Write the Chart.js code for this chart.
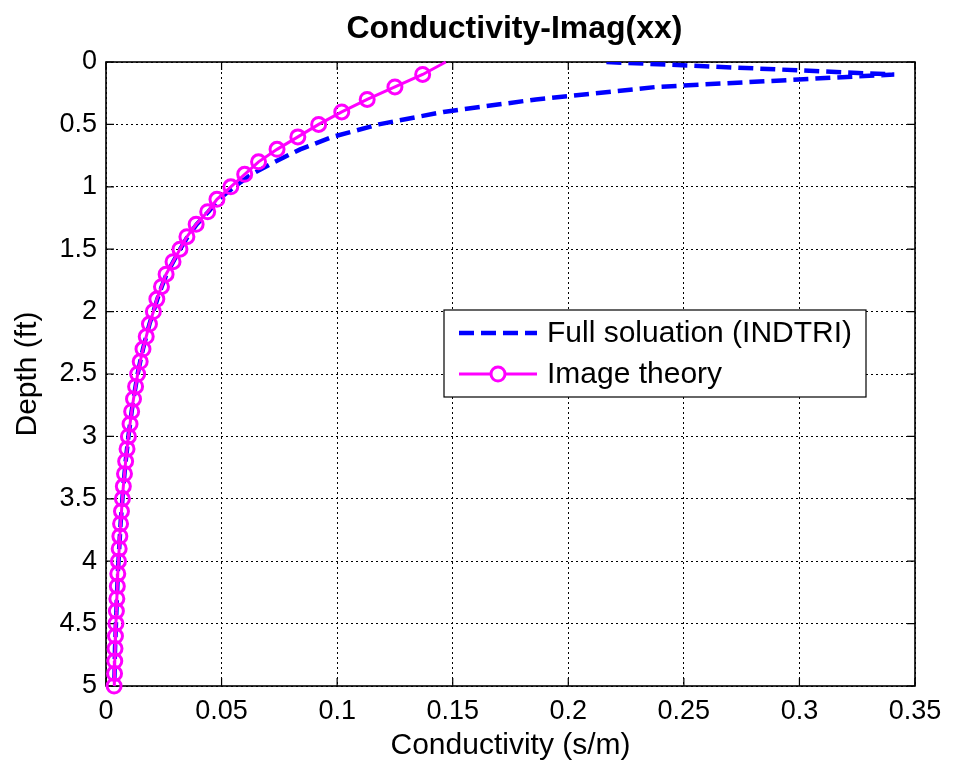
<!DOCTYPE html>
<html>
<head>
<meta charset="utf-8">
<script src="https://cdn.jsdelivr.net/npm/chart.js@4.4.0/dist/chart.umd.min.js"></script>
<style>
  html, body { margin: 0; padding: 0; background: #fff; }
</style>
</head>
<body>
<canvas id="chart" width="953" height="770"></canvas>
<script>
// Profundidades (ft) donde se evaluan las dos curvas
const depths = [0, 0.1, 0.2, 0.3, 0.4, 0.5, 0.6, 0.7, 0.8, 0.9,
                1, 1.1, 1.2, 1.3, 1.4, 1.5, 1.6, 1.7, 1.8, 1.9,
                2, 2.1, 2.2, 2.3, 2.4, 2.5, 2.6, 2.7, 2.8, 2.9,
                3, 3.1, 3.2, 3.3, 3.4, 3.5, 3.6, 3.7, 3.8, 3.9,
                4, 4.1, 4.2, 4.3, 4.4, 4.5, 4.6, 4.7, 4.8, 4.9, 5];

// Full soluation (INDTRI) - linea azul discontinua
const fullSolution = [0.2165, 0.341, 0.238, 0.186, 0.146, 0.118, 0.098, 0.084, 0.073, 0.063,
                      0.0555, 0.0488, 0.0443, 0.0393, 0.0353, 0.0321, 0.0291, 0.0262, 0.0241, 0.0222,
                      0.0205, 0.0188, 0.0174, 0.016, 0.0148, 0.0137, 0.0128, 0.0119, 0.0111, 0.0104,
                      0.0097, 0.0091, 0.0085, 0.008, 0.0075, 0.0071, 0.0067, 0.0063, 0.006, 0.0057,
                      0.0054, 0.0051, 0.0049, 0.0047, 0.0045, 0.0043, 0.0041, 0.0039, 0.0038, 0.0037, 0.0035];

// Image theory - linea magenta con circulos
const imageTheory = [0.147, 0.137, 0.125, 0.113, 0.102, 0.092, 0.083, 0.074, 0.066, 0.06,
                     0.054, 0.048, 0.044, 0.039, 0.035, 0.032, 0.029, 0.026, 0.024, 0.022,
                     0.0205, 0.0188, 0.0174, 0.016, 0.0148, 0.0137, 0.0128, 0.0119, 0.0111, 0.0104,
                     0.0097, 0.0091, 0.0085, 0.008, 0.0075, 0.0071, 0.0067, 0.0063, 0.006, 0.0057,
                     0.0054, 0.0051, 0.0049, 0.0047, 0.0045, 0.0043, 0.0041, 0.0039, 0.0038, 0.0037, 0.0035];

// Marcas de los ejes
const xTickValues = [0, 0.05, 0.1, 0.15, 0.2, 0.25, 0.3, 0.35];
const xTickLabels = ['0', '0.05', '0.1', '0.15', '0.2', '0.25', '0.3', '0.35'];
const yTickValues = [0, 0.5, 1, 1.5, 2, 2.5, 3, 3.5, 4, 4.5, 5];
const yTickLabels = ['0', '0.5', '1', '1.5', '2', '2.5', '3', '3.5', '4', '4.5', '5'];

const FONT = "'Liberation Sans', Arial, Helvetica, sans-serif";

// Caja del eje, marcas hacia adentro, titulo y leyenda al estilo MATLAB
const matlabStyle = {
    id: 'matlabStyle',
    beforeDatasetsDraw(chart) {
        const { ctx, chartArea: a, scales } = chart;
        ctx.save();
        ctx.setLineDash([]);
        ctx.strokeStyle = '#000';
        ctx.lineWidth = 1.6;
        ctx.strokeRect(a.left, a.top, a.right - a.left, a.bottom - a.top);
        const tl = 8;
        ctx.lineWidth = 1.2;
        ctx.beginPath();
        xTickValues.forEach(v => {
            const x = scales.x.getPixelForValue(v);
            ctx.moveTo(x, a.bottom); ctx.lineTo(x, a.bottom - tl);
            ctx.moveTo(x, a.top); ctx.lineTo(x, a.top + tl);
        });
        yTickValues.forEach(v => {
            const y = scales.y.getPixelForValue(v);
            ctx.moveTo(a.left, y); ctx.lineTo(a.left + tl, y);
            ctx.moveTo(a.right, y); ctx.lineTo(a.right - tl, y);
        });
        ctx.stroke();
        ctx.restore();
    },
    afterDraw(chart) {
        const { ctx, chartArea: a } = chart;
        ctx.save();
        // titulo
        ctx.fillStyle = '#000';
        ctx.font = 'bold 32px ' + FONT;
        ctx.textAlign = 'center';
        ctx.textBaseline = 'middle';
        ctx.fillText('Conductivity-Imag(xx)', (a.left + a.right) / 2 + 4, 29);

        // leyenda
        const bx = 444, by = 310, bw = 422, bh = 87;
        ctx.fillStyle = '#fff';
        ctx.fillRect(bx, by, bw, bh);
        ctx.strokeStyle = '#000';
        ctx.lineWidth = 1.2;
        ctx.setLineDash([]);
        ctx.strokeRect(bx, by, bw, bh);

        const rows = [chart.data.datasets[1], chart.data.datasets[0]];
        const rowY = [333, 374];
        rows.forEach((ds, i) => {
            const y = rowY[i];
            ctx.strokeStyle = ds.borderColor;
            ctx.lineWidth = ds.borderWidth;
            ctx.setLineDash(ds.borderDash || []);
            ctx.beginPath();
            ctx.moveTo(459, y);
            ctx.lineTo(537, y);
            ctx.stroke();
            ctx.setLineDash([]);
            if (ds.legendMarker) {
                ctx.beginPath();
                ctx.fillStyle = '#fff';
                ctx.arc(498, y, 7, 0, Math.PI * 2);
                ctx.fill();
                ctx.lineWidth = 3;
                ctx.stroke();
            }
            ctx.fillStyle = '#000';
            ctx.font = '30px ' + FONT;
            ctx.textAlign = 'left';
            ctx.textBaseline = 'middle';
            ctx.fillText(ds.label, 547, y + 1);
        });
        ctx.restore();
    }
};

new Chart(document.getElementById('chart'), {
    type: 'line',
    data: {
        datasets: [
            {
                label: 'Image theory',
                data: depths.map((d, i) => ({ x: imageTheory[i], y: d })),
                borderColor: '#ff00ff',
                borderWidth: 3,
                pointStyle: 'circle',
                pointRadius: ctx => (ctx.dataIndex === 0 ? 0 : 7),
                pointBorderWidth: 3,
                pointBorderColor: '#ff00ff',
                pointBackgroundColor: 'rgba(0,0,0,0)',
                tension: 0,
                clip: false,
                order: 0,
                legendMarker: true
            },
            {
                label: 'Full soluation (INDTRI)',
                data: depths.map((d, i) => ({ x: fullSolution[i], y: d })),
                borderColor: '#0000ff',
                borderWidth: 4.5,
                borderDash: [15, 7],
                pointRadius: 0,
                tension: 0,
                order: 1
            }
        ]
    },
    options: {
        responsive: false,
        animation: false,
        layout: { padding: { top: 62, right: 38, left: 0, bottom: 0 } },
        plugins: {
            legend: { display: false },
            title: { display: false },
            tooltip: { enabled: false }
        },
        scales: {
            x: {
                type: 'linear',
                min: 0,
                max: 0.35,
                afterBuildTicks: s => { s.ticks = xTickValues.map(v => ({ value: v })); },
                afterFit: s => { s.height = 84; },
                grid: { color: '#000', lineWidth: 1, drawTicks: false },
                border: { display: false, dash: [2, 3] },
                ticks: {
                    padding: 9,
                    color: '#000',
                    font: { family: FONT, size: 27 },
                    maxRotation: 0,
                    callback: (v, i) => xTickLabels[i]
                },
                title: {
                    display: true,
                    text: 'Conductivity (s/m)',
                    color: '#000',
                    font: { family: FONT, size: 30 },
                    padding: { top: 6, bottom: 6 }
                }
            },
            y: {
                type: 'linear',
                reverse: true,
                min: 0,
                max: 5,
                afterBuildTicks: s => { s.ticks = yTickValues.map(v => ({ value: v })); },
                afterFit: s => { s.width = 106; },
                grid: { color: '#000', lineWidth: 1, drawTicks: false },
                border: { display: false, dash: [2, 3] },
                ticks: {
                    padding: 9,
                    color: '#000',
                    font: { family: FONT, size: 27 },
                    callback: (v, i) => yTickLabels[i]
                },
                title: {
                    display: true,
                    text: 'Depth (ft)',
                    color: '#000',
                    font: { family: FONT, size: 30 },
                    padding: { top: 10, bottom: 0 }
                }
            }
        }
    },
    plugins: [matlabStyle]
});
</script>
</body>
</html>
